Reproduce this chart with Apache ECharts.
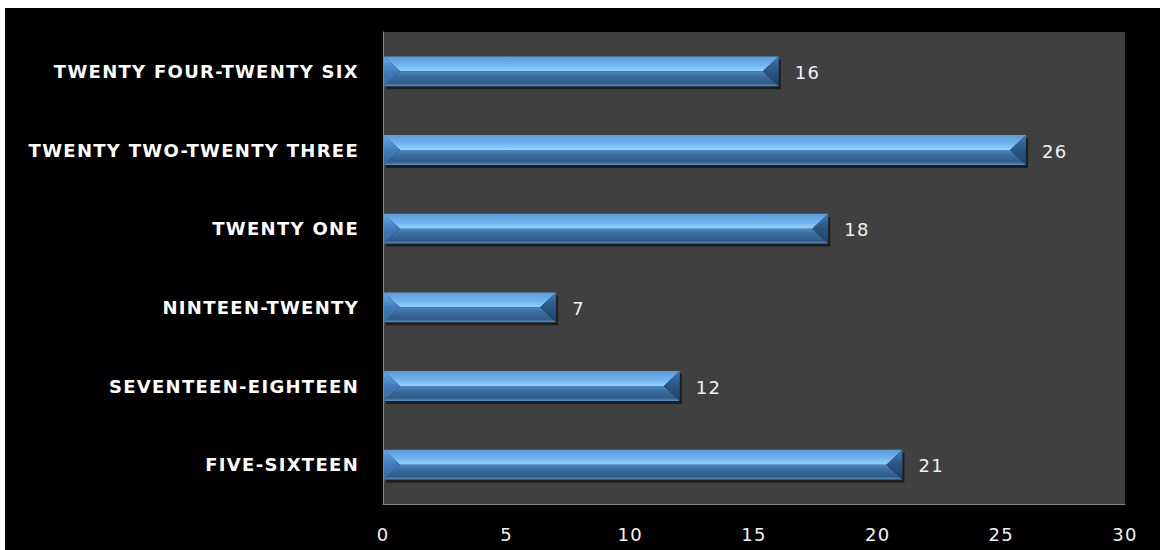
<!DOCTYPE html>
<html>
<head>
<meta charset="utf-8">
<style>
  html, body { margin: 0; padding: 0; background: #ffffff; }
  #chart { position: absolute; left: 5px; top: 8px; width: 1155px; height: 542px; background: #000000; }
  /* slightly wider tracking for all chart text */
  #chart text { letter-spacing: 1.3px; }
</style>
<script src="https://cdn.jsdelivr.net/npm/echarts@6/dist/echarts.min.js"></script>
</head>
<body>
<div id="chart"></div>
<script>
// Age groups, bottom to top on the category axis
var categories = ['FIVE-SIXTEEN', 'SEVENTEEN-EIGHTEEN', 'NINTEEN-TWENTY', 'TWENTY ONE', 'TWENTY TWO-TWENTY THREE', 'TWENTY FOUR-TWENTY SIX'];
var counts = [21, 12, 7, 18, 26, 16];
var xTicks = [0, 5, 10, 15, 20, 25, 30];

var FONT = '"DejaVu Sans", "Open Sans", sans-serif';
var chart = echarts.init(document.getElementById('chart'), null, { renderer: 'svg' });

function vGrad(stops) {
  return new echarts.graphic.LinearGradient(0, 0, 0, 1, stops.map(function (s) { return { offset: s[0], color: s[1] }; }));
}

// Bevelled bar: light upper face, dark lower face, triangular end caps
function renderBevelBar(params, api) {
  var cat = api.value(0);
  var val = api.value(1);
  var start = api.coord([0, cat]);
  var end = api.coord([val, cat]);
  var h = api.size([0, 1])[1] * 0.38;
  var x0 = start[0] + 1, x1 = end[0];
  var y0 = end[1] - h / 2, y1 = end[1] + h / 2, yc = end[1];
  var b = Math.min(h / 2 + 1, (x1 - x0) / 2);
  return {
    type: 'group',
    children: [
      { type: 'rect', shape: { x: x0 + 2, y: y0 + 3, width: x1 - x0, height: h },
        style: { fill: 'rgba(0,0,0,0.55)' }, z2: 0 },
      { type: 'polygon', shape: { points: [[x0, y0], [x1, y0], [x1 - b, yc], [x0 + b, yc]] },
        style: { fill: vGrad([[0, '#5b9bdc'], [0.55, '#6fb2ee'], [1, '#92d5ff']]) }, z2: 2 },
      { type: 'polygon', shape: { points: [[x0 + b, yc], [x1 - b, yc], [x1, y1], [x0, y1]] },
        style: { fill: vGrad([[0, '#4b86c0'], [0.35, '#3a6c9e'], [0.8, '#2f5b88'], [1, '#5b93cc']]) }, z2: 2 },
      { type: 'polygon', shape: { points: [[x0, y0], [x0 + b, yc], [x0, y1]] },
        style: { fill: vGrad([[0, '#6aa9e6'], [0.5, '#3e7cbc'], [1, '#3569a0']]) }, z2: 3 },
      { type: 'polygon', shape: { points: [[x1, y0], [x1, y1], [x1 - b, yc]] },
        style: { fill: vGrad([[0, '#3f78b0'], [0.5, '#2a5582'], [1, '#1f4368']]) }, z2: 3 },
      { type: 'text', style: { text: String(val), x: x1 + 16, y: yc + 1, verticalAlign: 'middle',
        fill: '#f2f2f2', font: '18px ' + FONT }, z2: 4 }
    ]
  };
}

chart.setOption({
  backgroundColor: '#000000',
  animation: false,
  grid: { left: 378, right: 35, top: 24, bottom: 46, show: true, backgroundColor: '#404040', borderWidth: 0 },
  xAxis: {
    type: 'value', min: xTicks[0], max: xTicks[xTicks.length - 1], interval: 5,
    axisLine: { show: true, lineStyle: { color: '#868686', width: 1 } },
    axisTick: { show: false },
    splitLine: { show: false },
    axisLabel: { color: '#f2f2f2', fontSize: 18, margin: 21, fontFamily: FONT }
  },
  yAxis: {
    type: 'category', data: categories,
    axisLine: { show: true, lineStyle: { color: '#868686', width: 1 } },
    axisTick: { show: false },
    axisLabel: { color: '#ffffff', fontSize: 18, fontWeight: 'bold', margin: 24, fontFamily: FONT }
  },
  series: [{
    type: 'custom',
    renderItem: renderBevelBar,
    encode: { x: 1, y: 0 },
    data: counts.map(function (v, i) { return [i, v]; })
  }]
});
</script>
</body>
</html>
